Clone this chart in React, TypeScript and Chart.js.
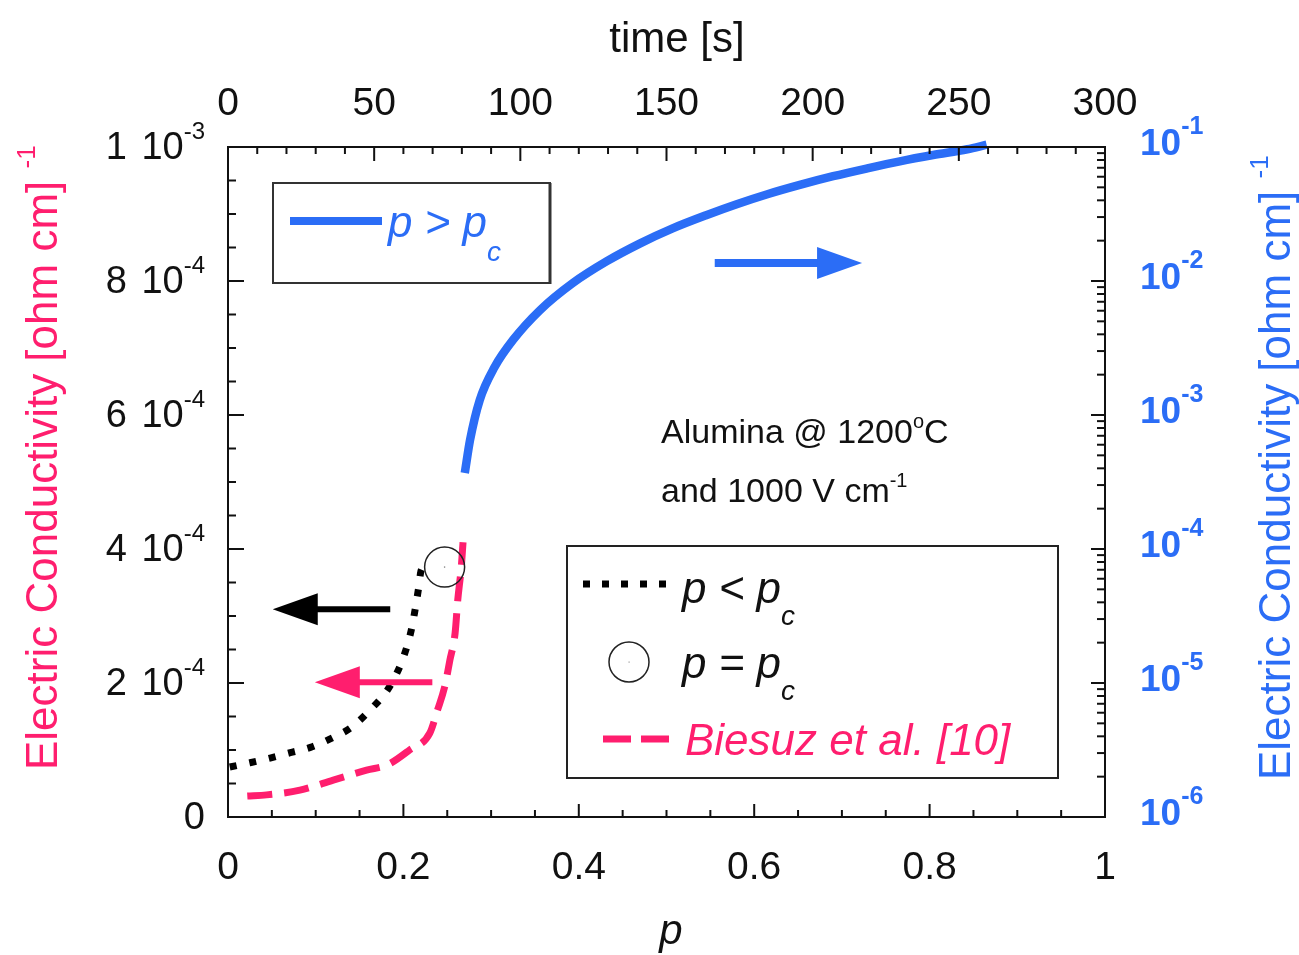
import React, { useEffect, useRef } from 'react';
import { Chart, registerables } from 'chart.js';

Chart.register(...registerables);

// ---------- data ----------
// p > pc  (right, logarithmic axis)
const pAbove = [0.270, 0.276, 0.287, 0.304, 0.325, 0.356, 0.393, 0.432, 0.470, 0.507, 0.546, 0.580, 0.615, 0.652, 0.690, 0.729, 0.766, 0.804, 0.843, 0.865];
const sigmaAbove = [3.69e-4, 6.5e-4, 1.29e-3, 2.28e-3, 3.63e-3, 6.08e-3, 9.64e-3, 1.406e-2, 1.91e-2, 2.47e-2, 3.11e-2, 3.74e-2, 4.44e-2, 5.21e-2, 6.05e-2, 6.93e-2, 7.82e-2, 8.71e-2, 9.62e-2, 0.104];

// p < pc  (left, linear axis)
const pBelow = [0.002, 0.025, 0.048, 0.071, 0.094, 0.119, 0.141, 0.163, 0.181, 0.193, 0.202, 0.209, 0.213, 0.217, 0.220, 0.222];
const sigmaBelow = [7.46e-5, 8.1e-5, 8.8e-5, 9.6e-5, 1.04e-4, 1.18e-4, 1.34e-4, 1.61e-4, 1.88e-4, 2.16e-4, 2.46e-4, 2.79e-4, 3.07e-4, 3.39e-4, 3.67e-4, 3.72e-4];

// Biesuz et al. [10]  (left, linear axis)
const pBiesuz = [0.022, 0.044, 0.082, 0.120, 0.158, 0.182, 0.207, 0.230, 0.239, 0.247, 0.253, 0.259, 0.262, 0.266, 0.268];
const sigmaBiesuz = [3.13e-5, 3.3e-5, 4.0e-5, 5.5e-5, 7.0e-5, 7.8e-5, 1.0e-4, 1.25e-4, 1.6e-4, 1.94e-4, 2.34e-4, 2.75e-4, 3.24e-4, 3.73e-4, 4.1e-4];

// p = pc
const pCritical = [0.247];
const sigmaCritical = [3.73e-4];

// ticks
const bottomTickValues = [0, 0.2, 0.4, 0.6, 0.8, 1];
const bottomTickLabels = ['0', '0.2', '0.4', '0.6', '0.8', '1'];
const topTickValues = [0, 50, 100, 150, 200, 250, 300];
const topTickLabels = ['0', '50', '100', '150', '200', '250', '300'];
const leftTickValues = [0, 2e-4, 4e-4, 6e-4, 8e-4, 1e-3];
const leftTickMantissa = ['0', '2', '4', '6', '8', '1'];
const leftTickExponent = ['', '-4', '-4', '-4', '-4', '-3'];
const rightTickValues = [1e-6, 1e-5, 1e-4, 1e-3, 1e-2, 1e-1];
const rightTickExponent = ['-6', '-5', '-4', '-3', '-2', '-1'];

// arrows: [y value, p start, p tip]
const arrowBlackLeft = [3.10e-4, 0.185, 0.051];
const arrowPinkLeft = [2.01e-4, 0.233, 0.099];
const arrowBlueRight = [0.0136, 0.555, 0.723];

// ---------- styles ----------
const BLUE = '#2b6df6';
const PINK = '#ff1e6e';
const BLACK = '#111111';
const FONT = '"Liberation Sans", Arial, sans-serif';

type Part = { t: string; size: number; dy?: number; style?: string };

function fontOf(p: Part) {
  return `${p.style ? p.style + ' ' : ''}${p.size}px ${FONT}`;
}

function drawRich(ctx: CanvasRenderingContext2D, parts: Part[], x: number, y: number, align: 'left' | 'center' | 'right', color: string) {
  ctx.save();
  ctx.fillStyle = color;
  ctx.textBaseline = 'alphabetic';
  ctx.textAlign = 'left';
  let w = 0;
  for (const p of parts) {
    ctx.font = fontOf(p);
    w += ctx.measureText(p.t).width;
  }
  let cx = align === 'left' ? x : align === 'center' ? x - w / 2 : x - w;
  for (const p of parts) {
    ctx.font = fontOf(p);
    ctx.fillText(p.t, cx, y + (p.dy || 0));
    cx += ctx.measureText(p.t).width;
  }
  ctx.restore();
}

function line(ctx: CanvasRenderingContext2D, x1: number, y1: number, x2: number, y2: number) {
  ctx.beginPath();
  ctx.moveTo(x1, y1);
  ctx.lineTo(x2, y2);
  ctx.stroke();
}

function arrow(ctx: CanvasRenderingContext2D, x0: number, xt: number, y: number, color: string, width: number) {
  const dir = xt > x0 ? 1 : -1;
  const headLen = 45;
  const headHalf = 16;
  ctx.save();
  ctx.strokeStyle = color;
  ctx.fillStyle = color;
  ctx.lineWidth = width;
  ctx.lineCap = 'butt';
  line(ctx, x0, y, xt - dir * (headLen - 2), y);
  ctx.beginPath();
  ctx.moveTo(xt, y);
  ctx.lineTo(xt - dir * headLen, y - headHalf);
  ctx.lineTo(xt - dir * headLen, y + headHalf);
  ctx.closePath();
  ctx.fill();
  ctx.restore();
}

const decorPlugin = {
  id: 'decor',
  afterDraw(chart: any) {
    const { ctx, chartArea: ca, scales } = chart;
    const xs = scales.x, xt = scales.xTop, yl = scales.yL, yr = scales.yR;
    ctx.save();

    // frame
    ctx.strokeStyle = BLACK;
    ctx.lineWidth = 2;
    ctx.strokeRect(ca.left, ca.top, ca.right - ca.left, ca.bottom - ca.top);

    // inward ticks
    ctx.lineWidth = 2;
    for (let i = 0; i <= 20; i++) {
      const px = xs.getPixelForValue(i * 0.05);
      line(ctx, px, ca.bottom, px, ca.bottom - (i % 4 === 0 ? 13 : 7));
    }
    for (let i = 0; i <= 30; i++) {
      const px = xt.getPixelForValue(i * 10);
      line(ctx, px, ca.top, px, ca.top + (i % 5 === 0 ? 14 : 7));
    }
    for (let i = 0; i <= 20; i++) {
      const py = yl.getPixelForValue(i * 5e-5);
      line(ctx, ca.left, py, ca.left + (i % 4 === 0 ? 16 : 8), py);
    }
    for (let e = -6; e <= -1; e++) {
      for (let k = 1; k <= 9; k++) {
        if (e === -1 && k > 1) break;
        const py = yr.getPixelForValue(k * Math.pow(10, e));
        line(ctx, ca.right, py, ca.right - (k === 1 ? 14 : 8), py);
      }
    }

    // tick labels
    bottomTickValues.forEach((v, i) => {
      drawRich(ctx, [{ t: bottomTickLabels[i], size: 39 }], xs.getPixelForValue(v), ca.bottom + 62, 'center', BLACK);
    });
    topTickValues.forEach((v, i) => {
      drawRich(ctx, [{ t: topTickLabels[i], size: 39 }], xt.getPixelForValue(v), ca.top - 32, 'center', BLACK);
    });
    leftTickValues.forEach((v, i) => {
      const parts: Part[] = [{ t: leftTickMantissa[i], size: 38 }];
      if (leftTickExponent[i]) {
        parts.push({ t: ' ', size: 52 });
        parts.push({ t: '10', size: 38 });
        parts.push({ t: leftTickExponent[i], size: 24, dy: -20 });
      }
      drawRich(ctx, parts, ca.left - 23, yl.getPixelForValue(v) + 12, 'right', BLACK);
    });
    rightTickValues.forEach((v, i) => {
      drawRich(ctx, [
        { t: '10', size: 37, style: 'bold' },
        { t: rightTickExponent[i], size: 25, style: 'bold', dy: -21 },
      ], ca.right + 35, yr.getPixelForValue(v) + 8, 'left', BLUE);
    });

    // axis titles
    drawRich(ctx, [{ t: 'time [s]', size: 42 }], 677, 52, 'center', BLACK);
    drawRich(ctx, [{ t: 'p', size: 42, style: 'italic' }], 671, 944, 'center', BLACK);

    ctx.save();
    ctx.translate(57, 770);
    ctx.rotate(-Math.PI / 2);
    drawRich(ctx, [
      { t: 'Electric Conductivity [ohm cm] ', size: 44 },
      { t: '-1', size: 26, dy: -22 },
    ], 0, 0, 'left', PINK);
    ctx.restore();

    ctx.save();
    ctx.translate(1290, 780);
    ctx.rotate(-Math.PI / 2);
    drawRich(ctx, [
      { t: 'Electric Conductivity [ohm cm] ', size: 44 },
      { t: '-1', size: 26, dy: -22 },
    ], 0, 0, 'left', BLUE);
    ctx.restore();

    // annotation
    drawRich(ctx, [
      { t: 'Alumina @ 1200', size: 34 },
      { t: 'o', size: 20, dy: -15 },
      { t: 'C', size: 34 },
    ], 661, 443, 'left', BLACK);
    drawRich(ctx, [
      { t: 'and 1000 V cm', size: 34 },
      { t: '-1', size: 20, dy: -15 },
    ], 661, 502, 'left', BLACK);

    // arrows
    arrow(ctx, xs.getPixelForValue(arrowBlackLeft[1]), xs.getPixelForValue(arrowBlackLeft[2]), yl.getPixelForValue(arrowBlackLeft[0]), '#000', 6);
    arrow(ctx, xs.getPixelForValue(arrowPinkLeft[1]), xs.getPixelForValue(arrowPinkLeft[2]), yl.getPixelForValue(arrowPinkLeft[0]), PINK, 6);
    arrow(ctx, xs.getPixelForValue(arrowBlueRight[1]), xs.getPixelForValue(arrowBlueRight[2]), yr.getPixelForValue(arrowBlueRight[0]), BLUE, 8);

    // legend box 1
    ctx.strokeStyle = '#333';
    ctx.lineWidth = 2;
    ctx.strokeRect(273, 183, 277, 100);
    ctx.lineWidth = 3;
    line(ctx, 550, 183, 550, 284);
    ctx.strokeStyle = BLUE;
    ctx.lineWidth = 8;
    ctx.lineCap = 'butt';
    line(ctx, 290, 221, 382, 221);
    drawRich(ctx, [
      { t: 'p > p', size: 44, style: 'italic' },
      { t: 'c', size: 28, style: 'italic', dy: 24 },
    ], 388, 237, 'left', BLUE);

    // legend box 2
    ctx.strokeStyle = '#222';
    ctx.lineWidth = 2;
    ctx.strokeRect(567, 546, 491, 232);
    ctx.strokeStyle = '#000';
    ctx.lineWidth = 7;
    ctx.setLineDash([7, 12]);
    line(ctx, 583, 584, 676, 584);
    ctx.setLineDash([]);
    drawRich(ctx, [
      { t: 'p < p', size: 44, style: 'italic' },
      { t: 'c', size: 28, style: 'italic', dy: 22 },
    ], 682, 603, 'left', BLACK);

    ctx.lineWidth = 1.5;
    ctx.strokeStyle = '#222';
    ctx.beginPath();
    ctx.arc(629, 662, 20, 0, Math.PI * 2);
    ctx.stroke();
    ctx.fillStyle = '#999';
    ctx.fillRect(628.5, 661.5, 1.2, 1.2);
    drawRich(ctx, [
      { t: 'p = p', size: 44, style: 'italic' },
      { t: 'c', size: 28, style: 'italic', dy: 22 },
    ], 682, 678, 'left', BLACK);

    ctx.strokeStyle = PINK;
    ctx.lineWidth = 7;
    ctx.setLineDash([28, 10]);
    line(ctx, 603, 739, 670, 739);
    ctx.setLineDash([]);
    drawRich(ctx, [{ t: 'Biesuz et al. [10]', size: 44, style: 'italic' }], 685, 755, 'left', PINK);

    ctx.restore();
  },
};

export default function App() {
  const canvasRef = useRef<HTMLCanvasElement | null>(null);

  useEffect(() => {
    const canvas = canvasRef.current;
    if (!canvas) return;
    const toXY = (xs: number[], ys: number[]) => xs.map((x, i) => ({ x, y: ys[i] }));
    const chart = new Chart(canvas, {
      type: 'scatter',
      data: {
        datasets: [
          {
            label: 'p = pc',
            data: toXY(pCritical, sigmaCritical),
            xAxisID: 'x',
            yAxisID: 'yL',
            showLine: false,
            pointRadius: 20,
            pointStyle: 'circle',
            borderColor: '#222',
            backgroundColor: 'rgba(255,255,255,0)',
            borderWidth: 1.5,
          },
          {
            label: 'p = pc centre',
            data: toXY(pCritical, sigmaCritical),
            xAxisID: 'x',
            yAxisID: 'yL',
            showLine: false,
            pointRadius: 0.8,
            borderWidth: 0,
            backgroundColor: '#888',
          },
          {
            label: 'p > pc',
            data: toXY(pAbove, sigmaAbove),
            xAxisID: 'x',
            yAxisID: 'yR',
            showLine: true,
            pointRadius: 0,
            borderColor: BLUE,
            borderWidth: 8.5,
            borderJoinStyle: 'round',
            cubicInterpolationMode: 'monotone',
            clip: false,
          },
          {
            label: 'p < pc',
            data: toXY(pBelow, sigmaBelow),
            xAxisID: 'x',
            yAxisID: 'yL',
            showLine: true,
            pointRadius: 0,
            borderColor: '#000',
            borderWidth: 7,
            borderDash: [7, 13],
            borderCapStyle: 'butt',
            cubicInterpolationMode: 'monotone',
          },
          {
            label: 'Biesuz et al. [10]',
            data: toXY(pBiesuz, sigmaBiesuz),
            xAxisID: 'x',
            yAxisID: 'yL',
            showLine: true,
            pointRadius: 0,
            borderColor: PINK,
            borderWidth: 7,
            borderDash: [25, 12],
            borderCapStyle: 'butt',
            cubicInterpolationMode: 'monotone',
          },
        ],
      },
      options: {
        responsive: false,
        animation: false,
        devicePixelRatio: 1,
        events: [],
        layout: { padding: { left: 228, right: 194, top: 147, bottom: 138 } },
        plugins: { legend: { display: false }, tooltip: { enabled: false } },
        scales: {
          x: { type: 'linear', position: 'bottom', min: 0, max: 1, display: false },
          xTop: { type: 'linear', position: 'top', min: 0, max: 300, display: false },
          yL: { type: 'linear', position: 'left', min: 0, max: 1e-3, display: false },
          yR: { type: 'logarithmic', position: 'right', min: 1e-6, max: 1e-1, display: false },
        },
      },
      plugins: [decorPlugin],
    } as any);
    return () => chart.destroy();
  }, []);

  return (
    <div style={{ position: 'fixed', left: 0, top: 0, width: 1299, height: 955, background: '#fff' }}>
      <canvas ref={canvasRef} width={1299} height={955} style={{ display: 'block', width: 1299, height: 955 }} />
    </div>
  );
}
